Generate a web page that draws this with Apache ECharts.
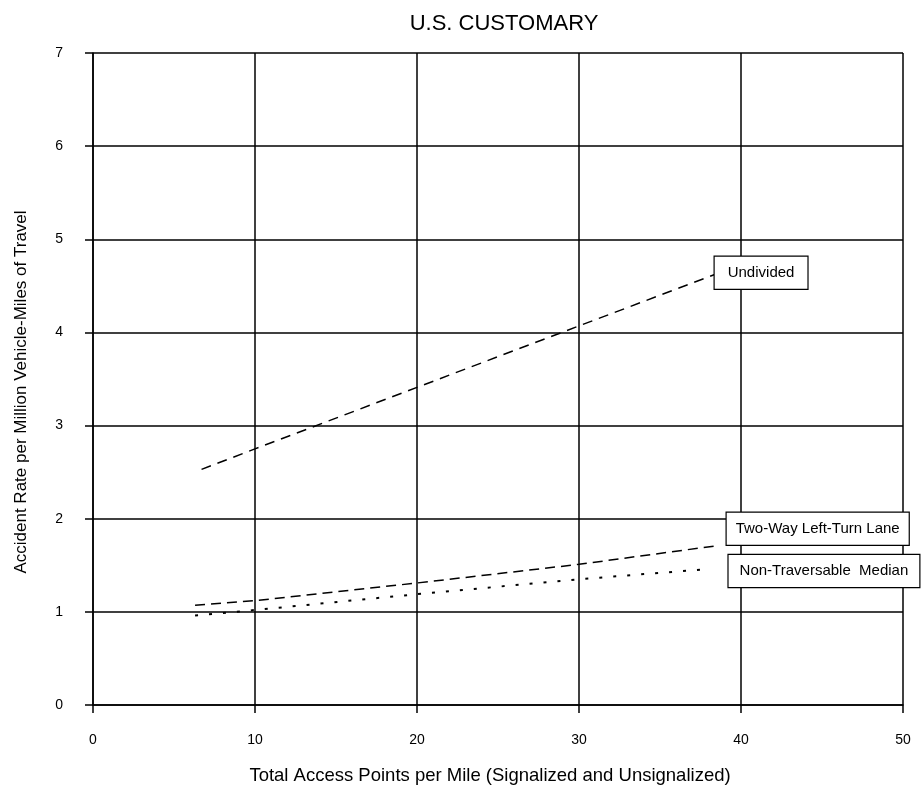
<!DOCTYPE html>
<html>
<head>
<meta charset="utf-8">
<script src="https://cdn.jsdelivr.net/npm/echarts@6/dist/echarts.min.js"></script>
<style>
  body { margin: 0; background: #fff; }
  #main { width: 923px; height: 793px; }
</style>
</head>
<body>
<div id="main"></div>
<script>
  // values
  var xTicks = [0, 10, 20, 30, 40, 50];
  var yTicks = [0, 1, 2, 3, 4, 5, 6, 7];
  var seriesNames = ['Undivided', 'Two-Way Left-Turn Lane', 'Non-Traversable  Median'];
  var undivided = [[6.7, 2.53], [10, 2.75], [20, 3.41], [30, 4.07], [38.5, 4.63]];
  var twoWayLtl = [[6.3, 1.07], [10, 1.12], [20, 1.31], [30, 1.51], [38.5, 1.71]];
  var nonTraversable = [[6.3, 0.96], [10, 1.02], [20, 1.19], [30, 1.35], [38, 1.46]];

  var font = 'Liberation Sans, Arial, sans-serif';
  var chart = echarts.init(document.getElementById('main'));

  function boxLabel(offset, padX) {
    return {
      show: true,
      formatter: '{a}',
      color: '#000',
      fontFamily: font,
      fontSize: 15,
      backgroundColor: '#fff',
      borderColor: '#000',
      borderWidth: 1.2,
      padding: [9, padX, 8, padX],
      distance: 0,
      offset: offset
    };
  }

  chart.setOption({
    animation: false,
    title: {
      text: 'U.S. CUSTOMARY',
      left: 499,
      top: 8,
      textAlign: 'center',
      textStyle: { fontFamily: font, fontSize: 22, fontWeight: 'normal', color: '#000' }
    },
    grid: { left: 93, right: 20, top: 53, bottom: 88 },
    xAxis: {
      type: 'value',
      min: xTicks[0],
      max: xTicks[xTicks.length - 1],
      interval: 10,
      name: 'Total Access Points per Mile (Signalized and Unsignalized)',
      nameLocation: 'middle',
      nameGap: 61,
      nameTextStyle: { fontFamily: font, fontSize: 18.5, color: '#000', padding: [0, 16, 0, 0] },
      axisLine: { lineStyle: { color: '#000', width: 1.5 } },
      axisTick: { show: true, length: 8, lineStyle: { color: '#000', width: 1.5 } },
      axisLabel: { margin: 28, fontFamily: font, fontSize: 14, color: '#000' },
      splitLine: { show: true, lineStyle: { color: '#000', width: 1.5 } }
    },
    yAxis: {
      type: 'value',
      min: yTicks[0],
      max: yTicks[yTicks.length - 1],
      interval: 1,
      name: 'Accident Rate per Million Vehicle-Miles of Travel',
      nameLocation: 'middle',
      nameGap: 63,
      nameTextStyle: { fontFamily: font, fontSize: 17, color: '#000', padding: [0, 26, 0, 0] },
      axisLine: { show: true, lineStyle: { color: '#000', width: 1.5 } },
      axisTick: { show: true, length: 8, lineStyle: { color: '#000', width: 1.5 } },
      axisLabel: { margin: 30, fontFamily: font, fontSize: 14, color: '#000' },
      splitLine: { show: true, lineStyle: { color: '#000', width: 1.5 } }
    },
    series: [{
      name: seriesNames[0],
      type: 'line',
      data: undivided,
      showSymbol: false,
      lineStyle: { color: '#000', width: 1.5, type: [10, 7] },
      endLabel: boxLabel([-2, -1], 13)
    }, {
      name: seriesNames[1],
      type: 'line',
      data: twoWayLtl,
      showSymbol: false,
      lineStyle: { color: '#000', width: 1.5, type: [10, 6] },
      endLabel: boxLabel([10, -17], 9)
    }, {
      name: seriesNames[2],
      type: 'line',
      data: nonTraversable,
      showSymbol: false,
      lineStyle: { color: '#000', width: 2, type: [3, 11] },
      endLabel: boxLabel([20, 2], 11)
    }]
  });
</script>
</body>
</html>
